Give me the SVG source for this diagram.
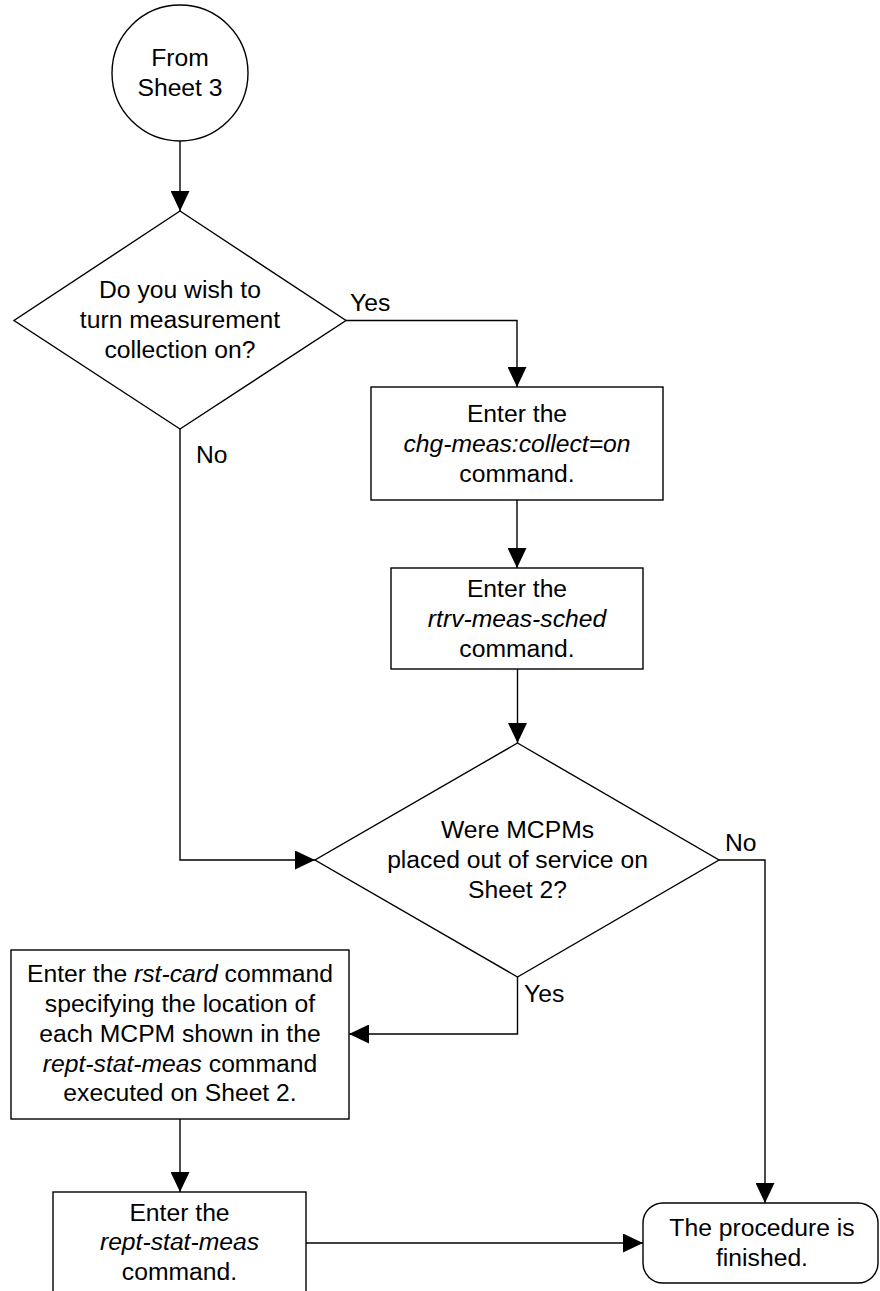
<svg xmlns="http://www.w3.org/2000/svg" width="880" height="1291" viewBox="0 0 880 1291">
<style>
.s{fill:#fff;stroke:#000;stroke-width:1.4}
.c{fill:none;stroke:#000;stroke-width:1.4}
text{font-family:"Liberation Sans",Arial,sans-serif;font-size:24.7px;fill:#000}
.m{text-anchor:middle}
.i{font-style:italic}
</style>
<defs>
<marker id="ah" markerUnits="userSpaceOnUse" markerWidth="20" markerHeight="19" refX="20" refY="9.5" orient="auto">
<path d="M0,0 L20,9.5 L0,19 z" fill="#000"/>
</marker>
</defs>
<rect width="880" height="1291" fill="#fff"/>
<g id="connectors">
<path class="c" d="M180,141 L180,211" marker-end="url(#ah)"/>
<path class="c" d="M346,320.5 L517,320.5 L517,387" marker-end="url(#ah)"/>
<path class="c" d="M517,500 L517,568" marker-end="url(#ah)"/>
<path class="c" d="M517.5,669 L517.5,743" marker-end="url(#ah)"/>
<path class="c" d="M180,429 L180,860 L315,860" marker-end="url(#ah)"/>
<path class="c" d="M719,860 L765,860 L765,1203" marker-end="url(#ah)"/>
<path class="c" d="M517.5,977 L517.5,1034 L349,1034" marker-end="url(#ah)"/>
<path class="c" d="M180,1119 L180,1192" marker-end="url(#ah)"/>
<path class="c" d="M306,1243 L643,1243" marker-end="url(#ah)"/>
<text x="350" y="311">Yes</text>
<text x="196" y="463">No</text>
<text x="725" y="851">No</text>
<text x="524" y="1002">Yes</text>
</g>
<g id="start">
<circle class="s" cx="180" cy="73" r="68"/>
<text class="m" x="180" y="66">From</text>
<text class="m" x="180" y="96">Sheet 3</text>
</g>
<g id="decision1">
<polygon class="s" points="180,211 346,320.5 180,429 14,320.5"/>
<text class="m" x="180" y="298">Do you wish to</text>
<text class="m" x="180" y="328">turn measurement</text>
<text class="m" x="180" y="358">collection on?</text>
</g>
<g id="box-chg-meas">
<rect class="s" x="371" y="387" width="292" height="113"/>
<text class="m" x="517" y="422">Enter the</text>
<text class="m i" x="517" y="452">chg-meas:collect=on</text>
<text class="m" x="517" y="482">command.</text>
</g>
<g id="box-rtrv-meas-sched">
<rect class="s" x="391" y="568" width="252" height="101"/>
<text class="m" x="517" y="597">Enter the</text>
<text class="m i" x="517" y="627">rtrv-meas-sched</text>
<text class="m" x="517" y="657">command.</text>
</g>
<g id="decision2">
<polygon class="s" points="517.5,743 719,860 517.5,977 315,860"/>
<text class="m" x="517.5" y="838">Were MCPMs</text>
<text class="m" x="517.5" y="868">placed out of service on</text>
<text class="m" x="517.5" y="898">Sheet 2?</text>
</g>
<g id="box-rst-card">
<rect class="s" x="11" y="950" width="338" height="169"/>
<text class="m" x="180" y="982">Enter the <tspan class="i">rst-card</tspan> command</text>
<text class="m" x="180" y="1012">specifying the location of</text>
<text class="m" x="180" y="1042">each MCPM shown in the</text>
<text class="m" x="180" y="1072"><tspan class="i">rept-stat-meas</tspan> command</text>
<text class="m" x="180" y="1101">executed on Sheet 2.</text>
</g>
<g id="box-rept-stat-meas">
<rect class="s" x="53" y="1192" width="253" height="102"/>
<text class="m" x="179.5" y="1221">Enter the</text>
<text class="m i" x="179.5" y="1250">rept-stat-meas</text>
<text class="m" x="179.5" y="1280">command.</text>
</g>
<g id="end">
<rect class="s" x="643" y="1203" width="235" height="80" rx="20" ry="20"/>
<text class="m" x="762" y="1236">The procedure is</text>
<text class="m" x="762" y="1266">finished.</text>
</g>
</svg>
